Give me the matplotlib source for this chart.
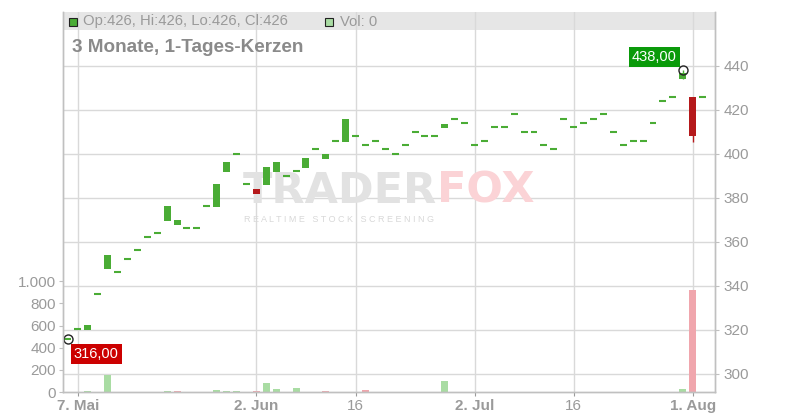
import matplotlib
matplotlib.use("Agg")
import matplotlib.pyplot as plt
from matplotlib.patches import Rectangle
from matplotlib import transforms

plt.rcParams['font.family'] = ['Liberation Sans', 'DejaVu Sans']

# daily candles, 6 May .. 4 Aug (trading days only)
opens = [316, 320.5, 320, 336.2, 347.7, 346.2, 352.1, 356.2, 362.1, 364,
         369.7, 367.7, 366.2, 366.2, 376.2, 376, 392, 400, 386.2, 384.1,
         386, 392, 389.9, 392.3, 393.8, 402.1, 397.9, 405.8, 405.6, 408,
         403.9, 405.8, 402.1, 399.9, 403.9, 409.9, 408, 408, 411.8, 415.8,
         413.9, 403.9, 405.8, 412.1, 412.1, 418, 409.9, 409.9, 403.9, 402.1,
         415.8, 412.1, 413.9, 415.8, 418, 409.9, 403.9, 406, 406, 413.9,
         424, 425.8, 434, 426, 426]
closes = [316, 320.5, 322.3, 336.2, 354.1, 346.2, 352.1, 356.2, 362.1, 364,
          376.4, 370, 366.2, 366.2, 376.2, 386.4, 396.4, 400, 386.2, 382,
          394.1, 396.4, 389.9, 392.3, 398.2, 402.1, 400, 405.8, 415.9, 408,
          403.9, 405.8, 402.1, 399.9, 403.9, 409.9, 408, 408, 413.6, 415.8,
          413.9, 403.9, 405.8, 412.1, 412.1, 418, 409.9, 409.9, 403.9, 402.1,
          415.8, 412.1, 413.9, 415.8, 418, 409.9, 403.9, 406, 406, 413.9,
          424, 425.8, 437, 408, 426]
highs = [316, 320.5, 322.3, 336.2, 354.1, 346.2, 352.1, 356.2, 362.1, 364,
         376.4, 370, 366.2, 366.2, 376.2, 386.4, 396.4, 400, 386.2, 384.1,
         394.1, 396.4, 389.9, 392.3, 398.2, 402.1, 400, 405.8, 415.9, 408,
         403.9, 405.8, 402.1, 399.9, 403.9, 409.9, 408, 408, 413.6, 415.8,
         413.9, 403.9, 405.8, 412.1, 412.1, 418, 409.9, 409.9, 403.9, 402.1,
         415.8, 412.1, 413.9, 415.8, 418, 409.9, 403.9, 406, 406, 413.9,
         424, 425.8, 438, 426, 426]
lows = [316, 320.5, 320, 336.2, 347.7, 346.2, 352.1, 356.2, 362.1, 364,
        369.7, 367.7, 366.2, 366.2, 376.2, 376, 392, 400, 386.2, 382,
        386, 392, 389.9, 392.3, 393.8, 402.1, 397.9, 405.8, 405.6, 408,
        403.9, 405.8, 402.1, 399.9, 403.9, 409.9, 408, 408, 411.8, 415.8,
        413.9, 403.9, 405.8, 412.1, 412.1, 418, 409.9, 409.9, 403.9, 402.1,
        415.8, 412.1, 413.9, 415.8, 418, 409.9, 403.9, 406, 406, 413.9,
        424, 425.8, 434, 405.6, 426]
volumes = [0, 0, 12, 0, 155, 0, 0, 0, 0, 0,
           12, 12, 0, 0, 0, 18, 12, 12, 0, 12,
           80, 27, 0, 35, 0, 0, 12, 0, 0, 0,
           20, 0, 0, 0, 0, 0, 0, 0, 100, 0,
           0, 0, 0, 0, 0, 0, 0, 0, 0, 0,
           0, 0, 0, 0, 0, 0, 0, 0, 0, 0,
           0, 0, 27, 920, 0]

tick_pos = [1, 19, 29, 41, 51, 63]
tick_labels = ["7. Mai", "2. Jun", "16", "2. Jul", "16", "1. Aug"]
price_ticks = [300, 320, 340, 360, 380, 400, 420, 440]
vol_ticks = [0, 200, 400, 600, 800, 1000]

GREEN = "#4aac35"
RED = "#b5191b"
VGREEN = "#a9dca3"
VRED = "#f0a6ad"
GRID = "#d9d9d9"
LBL = "#9a9a9a"

W, H = 800, 420
fig = plt.figure(figsize=(8, 4.2), dpi=100)
L, R, T, B = 63, 715, 12, 392
ax = fig.add_axes([L / W, 1 - B / H, (R - L) / W, (B - T) / H])
axv = ax.twinx()

ax.set_xlim(-0.5, 65.25)
ax.set_ylim(291.8, 464.5)
axv.set_ylim(0, 3430)

# header band
ax.add_patch(Rectangle((0, 1 - 18 / (B - T)), 1, 18 / (B - T), transform=ax.transAxes,
                       facecolor="#e6e6e6", edgecolor="none", zorder=0))

for p in price_ticks:
    ax.axhline(p, color=GRID, lw=1, zorder=0.5)
for t in tick_pos:
    ax.axvline(t, color=GRID, lw=1, zorder=0.5)

# volume bars drawn in price axes, y taken from the volume scale
blend = transforms.blended_transform_factory(ax.transData, axv.transData)
bw = 0.7
for i, v in enumerate(volumes):
    if v <= 0:
        continue
    up = i == 0 or closes[i] >= closes[i - 1]
    ax.add_patch(Rectangle((i - bw / 2, 0), bw, v, transform=blend,
                           facecolor=VGREEN if up else VRED, edgecolor="none", zorder=1))

# candles
for i in range(len(opens)):
    o, c, h, l = opens[i], closes[i], highs[i], lows[i]
    col = RED if c < o else GREEN
    if h > max(o, c) or l < min(o, c):
        ax.vlines(i, l, h, color=col, lw=1, zorder=3)
    if abs(c - o) < 0.3:
        ax.hlines(o, i - bw / 2, i + bw / 2, color=col, lw=1.5, zorder=3)
    else:
        ax.add_patch(Rectangle((i - bw / 2, min(o, c)), bw, abs(c - o),
                               facecolor=col, edgecolor="none", zorder=3))

# max / min markers
imax = highs.index(max(highs))
imin = lows.index(min(lows))
ax.plot([imax, imin], [highs[imax], lows[imin]], "o", mfc="none", mec="#222222",
        ms=6.5, mew=1, zorder=5)
ax.annotate(f"{highs[imax]:.2f}".replace(".", ","), (imax, highs[imax]),
            xytext=(-6, 6), textcoords="offset pixels", ha="right", va="bottom",
            color="white", fontsize=10.5, zorder=6,
            bbox=dict(boxstyle="square,pad=0.2", fc="#0a9a0a", ec="none"))
ax.annotate(f"{lows[imin]:.2f}".replace(".", ","), (imin, lows[imin]),
            xytext=(6, -8), textcoords="offset pixels", ha="left", va="top",
            color="white", fontsize=10.5, zorder=6,
            bbox=dict(boxstyle="square,pad=0.2", fc="#cc0000", ec="none"))

# watermark
ax.text(437 / W, 1 - 191 / H, "TRADER", transform=fig.transFigure, ha="right", va="center",
        fontsize=31, fontweight="bold", family="DejaVu Sans", color="#e2e2e2", zorder=0.8)
ax.text(437 / W, 1 - 191 / H, "FOX", transform=fig.transFigure, ha="left", va="center",
        fontsize=31, fontweight="bold", family="DejaVu Sans", color="#fbd3d6", zorder=0.8)
ax.text(339 / W, 1 - 219 / H, "R E A L T I M E   S T O C K   S C R E E N I N G",
        transform=fig.transFigure, ha="center", va="center",
        fontsize=6.5, color="#d8d8d8", zorder=0.8)

# axes styling
ax.yaxis.tick_right()
ax.set_yticks(price_ticks)
ax.set_yticklabels([str(p) for p in price_ticks])
ax.set_xticks(tick_pos)
ax.set_xticklabels(tick_labels)
for lab, txt in zip(ax.get_xticklabels(), tick_labels):
    if txt != "16":
        lab.set_fontweight("bold")
ax.tick_params(axis="x", colors=LBL, labelcolor=LBL, labelsize=11, length=3, pad=2)
ax.tick_params(axis="y", colors="#c0c0c0", labelcolor=LBL, labelsize=11, length=3, pad=3)
axv.yaxis.tick_left()
axv.set_yticks(vol_ticks)
axv.set_yticklabels([f"{v:,}".replace(",", ".") for v in vol_ticks])
axv.tick_params(axis="y", colors="#c0c0c0", labelcolor=LBL, labelsize=11, length=3, pad=2)
for a in (ax, axv):
    a.spines["top"].set_visible(False)
    for s in ("left", "right", "bottom"):
        a.spines[s].set_color("#c0c0c0")
        a.spines[s].set_linewidth(1)

# header legend
fig.patches.append(Rectangle((69 / W, 1 - 26 / H), 8 / W, 8 / H, transform=fig.transFigure,
                             facecolor=GREEN, edgecolor="#222222", lw=0.8, zorder=5))
fig.text(83 / W, 1 - 21.5 / H, "Op:426, Hi:426, Lo:426, Cl:426", ha="left", va="center",
         fontsize=10.7, color=LBL)
fig.patches.append(Rectangle((325 / W, 1 - 26 / H), 8 / W, 8 / H, transform=fig.transFigure,
                             facecolor=VGREEN, edgecolor="#222222", lw=0.8, zorder=5))
fig.text(340 / W, 1 - 21.5 / H, "Vol: 0", ha="left", va="center", fontsize=10.7, color=LBL)
fig.text(72 / W, 1 - 47 / H, "3 Monate, 1-Tages-Kerzen", ha="left", va="center",
         fontsize=13.6, fontweight="bold", color="#8a8a8a")

fig.savefig("out.png", dpi=100)
